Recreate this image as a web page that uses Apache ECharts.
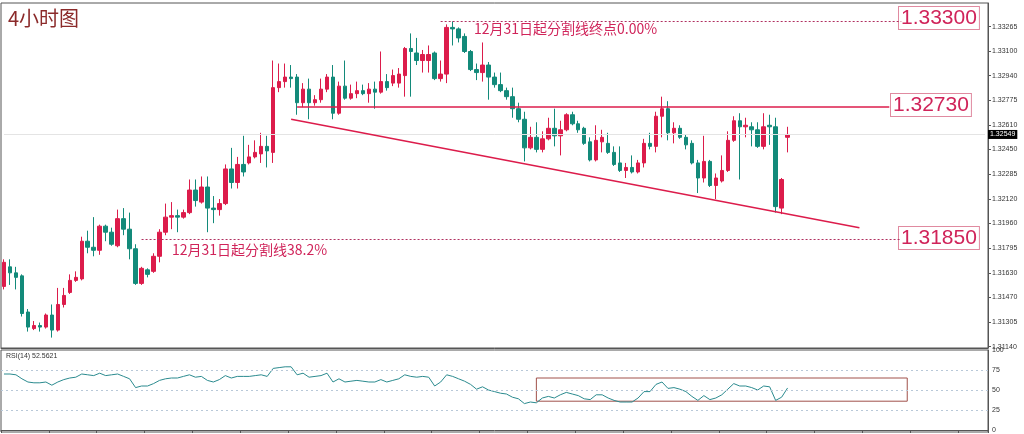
<!DOCTYPE html>
<html>
<head>
<meta charset="utf-8">
<script src="https://cdn.jsdelivr.net/npm/echarts@6/dist/echarts.min.js"></script>
<style>
html,body{margin:0;padding:0;background:#fff;}
#chart{width:1024px;height:434px;}
</style>
</head>
<body>
<div id="chart"></div>
<script>
// 4小时K线 open, close, high, low
var opens = [1.3154,1.3167,1.3163,1.3161,1.3137,1.3126,1.3128,1.3127,1.3135,1.3125,1.3142,1.3150,1.3158,1.3159,1.3184,1.3180,1.3178,1.3194,1.3190,1.3181,1.3199,1.3192,1.3179,1.3156,1.3165,1.3164,1.3174,1.3190,1.3200,1.3201,1.3200,1.3203,1.3218,1.3210,1.3220,1.3206,1.3205,1.3209,1.3232,1.3223,1.3235,1.3236,1.3240,1.3242,1.3247,1.3243,1.3286,1.3290,1.3293,1.3293,1.3276,1.3285,1.3276,1.3278,1.3285,1.3293,1.3269,1.3287,1.3279,1.3282,1.3284,1.3282,1.3285,1.3283,1.3290,1.3289,1.3289,1.3294,1.3312,1.3309,1.3304,1.3304,1.3309,1.3292,1.3295,1.3326,1.3325,1.3320,1.3310,1.3298,1.3296,1.3301,1.3293,1.3288,1.3284,1.3280,1.3272,1.3265,1.3246,1.3253,1.3245,1.3252,1.3259,1.3254,1.3258,1.3268,1.3262,1.3259,1.3250,1.3238,1.3250,1.3249,1.3243,1.3236,1.3231,1.3233,1.3230,1.3236,1.3249,1.3247,1.3267,1.3272,1.3256,1.3259,1.3253,1.3249,1.3236,1.3226,1.3237,1.3221,1.3224,1.3231,1.3251,1.3264,1.3260,1.3260,1.3258,1.3247,1.3261,1.3260,1.3206,1.3253];
var closes = [1.3170,1.3163,1.3160,1.3136,1.3127,1.3128,1.3127,1.3135,1.3125,1.3142,1.3148,1.3158,1.3160,1.3184,1.3180,1.3178,1.3194,1.3190,1.3182,1.3199,1.3192,1.3179,1.3156,1.3166,1.3162,1.3174,1.3190,1.3200,1.3201,1.3200,1.3203,1.3218,1.3211,1.3220,1.3206,1.3205,1.3209,1.3232,1.3223,1.3235,1.3230,1.3240,1.3243,1.3247,1.3244,1.3286,1.3290,1.3293,1.3292,1.3276,1.3285,1.3276,1.3278,1.3285,1.3293,1.3269,1.3287,1.3279,1.3282,1.3284,1.3282,1.3285,1.3283,1.3290,1.3286,1.3294,1.3295,1.3312,1.3310,1.3304,1.3308,1.3308,1.3292,1.3295,1.3326,1.3325,1.3319,1.3310,1.3298,1.3296,1.3301,1.3293,1.3288,1.3284,1.3280,1.3272,1.3265,1.3246,1.3253,1.3245,1.3252,1.3259,1.3254,1.3258,1.3268,1.3262,1.3258,1.3249,1.3238,1.3251,1.3253,1.3243,1.3235,1.3231,1.3233,1.3230,1.3236,1.3249,1.3247,1.3267,1.3272,1.3256,1.3259,1.3253,1.3248,1.3236,1.3226,1.3237,1.3221,1.3226,1.3231,1.3251,1.3264,1.3260,1.3261,1.3258,1.3247,1.3260,1.3260,1.3207,1.3225,1.32549];
var highs = [1.3172,1.3172,1.3167,1.3162,1.3139,1.3131,1.3130,1.3136,1.3142,1.3153,1.3153,1.3162,1.3164,1.3187,1.3191,1.3200,1.3195,1.3195,1.3193,1.3205,1.3206,1.3203,1.3182,1.3167,1.3166,1.3176,1.3192,1.3209,1.3210,1.3205,1.3205,1.3225,1.3225,1.3227,1.3227,1.3214,1.3212,1.3235,1.3246,1.3240,1.3254,1.3248,1.3251,1.3256,1.3254,1.3304,1.3302,1.3302,1.3301,1.3295,1.3289,1.3292,1.3281,1.3292,1.3295,1.3301,1.3290,1.3304,1.3288,1.3290,1.3288,1.3289,1.3290,1.3310,1.3295,1.3298,1.3299,1.3313,1.3322,1.3319,1.3311,1.3314,1.3310,1.3304,1.3328,1.3330,1.3326,1.3322,1.3311,1.3302,1.3316,1.3303,1.3296,1.3296,1.3286,1.3286,1.3276,1.3270,1.3260,1.3263,1.3257,1.3266,1.3272,1.3264,1.3269,1.3270,1.3264,1.3260,1.3253,1.3261,1.3258,1.3256,1.3247,1.3247,1.3236,1.3241,1.3238,1.3252,1.3256,1.3270,1.3280,1.3277,1.3263,1.3261,1.3255,1.3251,1.3238,1.3254,1.3238,1.3229,1.3241,1.3257,1.3267,1.3269,1.3266,1.3263,1.3263,1.3269,1.3268,1.3266,1.3226,1.3260];
var lows = [1.3152,1.3155,1.3152,1.3134,1.3124,1.3125,1.3124,1.3126,1.3120,1.3124,1.3140,1.3149,1.3157,1.3158,1.3176,1.3174,1.3175,1.3184,1.3181,1.3180,1.3188,1.3172,1.3155,1.3155,1.3160,1.3163,1.3170,1.3188,1.3192,1.3190,1.3199,1.3202,1.3207,1.3209,1.3190,1.3196,1.3201,1.3208,1.3219,1.3219,1.3227,1.3235,1.3239,1.3236,1.3233,1.3236,1.3283,1.3286,1.3286,1.3268,1.3273,1.3265,1.3274,1.3276,1.3283,1.3265,1.3268,1.3278,1.3278,1.3279,1.3281,1.3276,1.3272,1.3282,1.3284,1.3287,1.3286,1.3280,1.3280,1.3301,1.3296,1.3296,1.3291,1.3290,1.3289,1.3314,1.3316,1.3309,1.3297,1.3291,1.3290,1.3278,1.3286,1.3283,1.3278,1.3266,1.3263,1.3237,1.3245,1.3243,1.3243,1.3251,1.3247,1.3241,1.3257,1.3261,1.3256,1.3248,1.3237,1.3237,1.3243,1.3242,1.3234,1.3230,1.3226,1.3229,1.3229,1.3233,1.3245,1.3243,1.3253,1.3251,1.3249,1.3252,1.3245,1.3235,1.3216,1.3223,1.3220,1.3212,1.3223,1.3230,1.3250,1.3225,1.3253,1.3247,1.3246,1.3245,1.3248,1.3203,1.3202,1.3243];
var rsi = [70,70,69,64,60,59,59,60,56,60,63,65,66,70,69,68,71,68,69,70,67,64,53,55,55,58,62,64,65,65,67,69,66,67,62,60,63,68,65,67,67,67,68,69,67,77,78,79,79,69,71,66,67,68,71,60,64,60,61,62,61,60,60,63,60,62,64,69,67,66,67,66,55,60,69,67,64,61,57,51,54,50,48,46,45,41,39,33,35,34,40,42,40,44,47,45,43,39,38,44,44,40,37,35,35,35,40,48,48,57,60,52,53,51,48,42,37,43,38,40,44,51,58,55,55,53,50,55,54,37,41,52.5621];
var priceTicks = [1.33265,1.33100,1.32940,1.32775,1.32610,1.32450,1.32285,1.32120,1.31960,1.31795,1.31630,1.31470,1.31305,1.31140];
var rsiTicks = [0,25,50,75,100];
var lastPrice = 1.32549;

var totalSlots = 165;
var cats = [];
for (var i = 0; i < totalSlots; i++) cats.push(i);
var kData = [];
for (var i = 0; i < opens.length; i++) kData.push([opens[i], closes[i], lows[i], highs[i]]);

var red = '#dc1c4b', teal = '#138a7a', lab = '#d0245a';
var chart = echarts.init(document.getElementById('chart'));
var option = {
    animation: false,
    grid: [
        {left: 1, right: 36, top: 3, height: 345, show: true, borderColor: '#555', borderWidth: 1},
        {left: 1, right: 36, top: 350, height: 82, show: true, borderColor: '#555', borderWidth: 1}
    ],
    xAxis: [
        {type: 'category', data: cats, gridIndex: 0, axisLabel: {show: false}, axisTick: {show: false}, axisLine: {lineStyle: {color: '#555'}}},
        {type: 'category', data: cats, gridIndex: 1, axisLabel: {show: false},
         axisTick: {show: true, interval: 7, length: 3, lineStyle: {color: '#555'}}, axisLine: {lineStyle: {color: '#555'}}}
    ],
    yAxis: [
        {type: 'value', gridIndex: 0, position: 'right', min: 1.31131, max: 1.33422, splitLine: {show: false},
         axisLine: {show: true, lineStyle: {color: '#555'}}, axisTick: {show: true, length: 3, customValues: priceTicks},
         axisLabel: {customValues: priceTicks, fontSize: 7, color: '#333', margin: 4, fontFamily: 'Liberation Sans',
                     formatter: function (v) { return v.toFixed(5); }}},
        {type: 'value', gridIndex: 1, position: 'right', min: -2.5, max: 100,
         axisLine: {show: true, lineStyle: {color: '#555'}}, axisTick: {show: false},
         splitLine: {show: false},
         axisLabel: {customValues: rsiTicks, fontSize: 7, color: '#333', margin: 4, fontFamily: 'Liberation Sans'}}
    ],
    series: [
        {
            type: 'candlestick', xAxisIndex: 0, yAxisIndex: 0, data: kData, barWidth: 4,
            itemStyle: {color: red, color0: teal, borderColor: red, borderColor0: teal, borderWidth: 1},
            markLine: {
                symbol: 'none', silent: true,
                data: [
                    [{coord: [0, lastPrice], lineStyle: {color: '#e4e4e4', type: 'solid', width: 1},
                      label: {show: true, position: 'end', formatter: '1.32549', backgroundColor: '#000', color: '#fff',
                              fontSize: 7, padding: [1, 2], distance: 3, fontFamily: 'Liberation Sans'}},
                     {coord: [164, lastPrice]}],
                    [{coord: [49, 1.32730], lineStyle: {color: red, type: 'solid', width: 1.5}, label: {show: false}}, {coord: [148, 1.32730]}],
                    [{coord: [73, 1.33300], lineStyle: {color: '#b03060', type: [2, 2], width: 1}, label: {show: false}}, {coord: [149.5, 1.33300]}],
                    [{coord: [23, 1.31850], lineStyle: {color: '#b03060', type: [2, 2], width: 1}, label: {show: false}}, {coord: [149.5, 1.31850]}],
                    [{coord: [48, 1.3265], lineStyle: {color: red, type: 'solid', width: 1.5}, label: {show: false}}, {coord: [143, 1.3193]}]
                ]
            }
        },
        {
            type: 'line', xAxisIndex: 1, yAxisIndex: 1, data: rsi, symbol: 'none',
            lineStyle: {color: '#2a8a8e', width: 1},
            markLine: {
                symbol: 'none', silent: true, label: {show: false},
                lineStyle: {color: '#b8c8d8', type: [2, 3], width: 1},
                data: [{yAxis: 75}, {yAxis: 50}, {yAxis: 25}]
            },
            markArea: {
                silent: true,
                itemStyle: {color: 'rgba(0,0,0,0)', borderColor: '#a0504a', borderWidth: 1},
                data: [[{coord: [88.5, 65]}, {coord: [150.8, 36]}]]
            }
        }
    ],
    graphic: [
        {type: 'text', left: 8, top: 8, style: {text: '4小时图', font: '20px "Noto Sans CJK SC"', fill: '#8b2a2a'}},
        {type: 'text', left: 474, top: 22, style: {text: '12月31日起分割线终点0.00%', font: '14px "Noto Sans CJK SC"', fill: lab}},
        {type: 'text', left: 172, top: 243, style: {text: '12月31日起分割线38.2%', font: '14px "Noto Sans CJK SC"', fill: lab}},
        {type: 'text', left: 898, top: 6, style: {text: '1.33300', font: '21px "Liberation Sans"', fill: lab, borderColor: '#e08aa0', borderWidth: 1, padding: [1, 2, 0, 2], backgroundColor: '#fff'}},
        {type: 'text', left: 890, top: 93, style: {text: '1.32730', font: '21px "Liberation Sans"', fill: lab, borderColor: '#e08aa0', borderWidth: 1, padding: [1, 2, 0, 2], backgroundColor: '#fff'}},
        {type: 'text', left: 898, top: 226, style: {text: '1.31850', font: '21px "Liberation Sans"', fill: lab, borderColor: '#e08aa0', borderWidth: 1, padding: [1, 2, 0, 2], backgroundColor: '#fff'}},
        {type: 'text', left: 6, top: 353, style: {text: 'RSI(14) 52.5621', font: '7px "Liberation Sans"', fill: '#333'}}
    ]
};
chart.setOption(option);
window.addEventListener('resize', function () {
    chart.resize();
});
</script>
</body>
</html>
